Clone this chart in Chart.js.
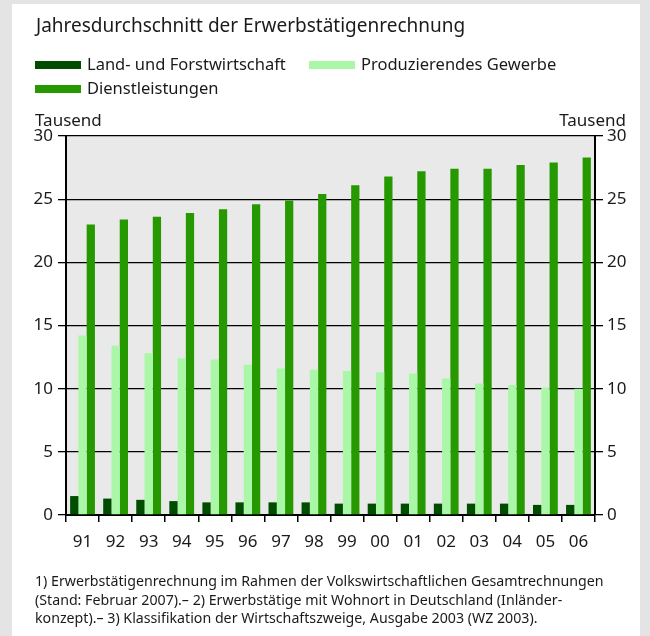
<!DOCTYPE html>
<html>
<head>
<meta charset="utf-8">
<script src="https://cdn.jsdelivr.net/npm/chart.js@4"></script>
<style>
    body { margin: 0; width: 650px; height: 636px; background: #e4e4e4; font-family: "Noto Sans", sans-serif; color: #1a1a1a; overflow: hidden; }
    #panel { position: absolute; left: 12px; top: 4px; width: 628px; height: 632px; background: #fff; }
    #chart { position: absolute; left: 0; top: 0; }
    .txt { position: absolute; white-space: nowrap; line-height: 1; }
    #title { left: 36px; top: 16px; font-size: 19px; }
    .leg { position: absolute; font-size: 16.5px; line-height: 1; white-space: nowrap; }
    .leg i { position: absolute; left: 0; top: 4px; width: 46px; height: 8px; }
    .leg span { position: absolute; left: 52px; top: -1px; }
    .unit { font-size: 17px; top: 111px; }
    #note { left: 35px; top: 572px; font-size: 14.2px; line-height: 18.7px; white-space: normal; width: 600px; }
</style>
</head>
<body>
<div id="panel"></div>
<canvas id="chart" width="650" height="636"></canvas>
<div id="title" class="txt">Jahresdurchschnitt der Erwerbstätigenrechnung</div>
<div id="legend"></div>
<div class="txt unit" style="left:35px">Tausend</div>
<div class="txt unit" style="right:24px">Tausend</div>
<div id="note" class="txt">1) Erwerbstätigenrechnung im Rahmen der Volkswirtschaftlichen Gesamtrechnungen<br>(Stand: Februar 2007).– 2) Erwerbstätige mit Wohnort in Deutschland (Inländer-<br>konzept).– 3) Klassifikation der Wirtschaftszweige, Ausgabe 2003 (WZ 2003).</div>
<script>
// Daten (Tausend)
const years = ['91', '92', '93', '94', '95', '96', '97', '98', '99', '00', '01', '02', '03', '04', '05', '06'];
const landForst = [1.5, 1.3, 1.2, 1.1, 1.0, 1.0, 1.0, 1.0, 0.9, 0.9, 0.9, 0.9, 0.9, 0.9, 0.8, 0.8];
const produzierend = [14.2, 13.4, 12.8, 12.4, 12.3, 11.9, 11.6, 11.5, 11.4, 11.3, 11.2, 10.8, 10.4, 10.3, 10.1, 10.0];
const dienst = [23.0, 23.4, 23.6, 23.9, 24.2, 24.6, 24.9, 25.4, 26.1, 26.8, 27.2, 27.4, 27.4, 27.7, 27.9, 28.3];
const yTicks = [0, 5, 10, 15, 20, 25, 30];

const seriesNames = ['Land- und Forstwirtschaft', 'Produzierendes Gewerbe', 'Dienstleistungen'];
const seriesColors = ['#004d00', '#aaf7a8', '#269900'];

// Legende (HTML)
const legPos = [[35, 57], [309, 57], [35, 81]];
document.getElementById('legend').innerHTML = seriesNames.map((n, i) => `
    <div class="leg" style="left:${legPos[i][0]}px;top:${legPos[i][1]}px">
      <i style="background:${seriesColors[i]}"></i><span>${n}</span>
    </div>`).join('');

const tickFont = {family: '"Noto Sans", sans-serif', size: 17};

// Hintergrund der Zeichenfläche
const plotBg = {
    id: 'plotBg',
    beforeDraw(chart) {
        const {ctx, chartArea: a} = chart;
        ctx.save();
        ctx.fillStyle = '#e9e9e9';
        ctx.fillRect(a.left, a.top, a.right - a.left, a.bottom - a.top);
        ctx.restore();
    }
};

const yAxis = (pos, w) => ({
    position: pos,
    min: 0,
    max: 30,
    afterBuildTicks: s => { s.ticks = yTicks.map(v => ({value: v})); },
    ticks: {color: '#1a1a1a', font: tickFont, padding: pos === 'left' ? 5 : 4},
    grid: {color: '#000', lineWidth: 1.3, tickLength: 8, drawOnChartArea: pos === 'left'},
    border: {color: '#000', width: 2},
    afterFit: s => { s.width = w; }
});

new Chart(document.getElementById('chart'), {
    type: 'bar',
    data: {
        labels: years,
        datasets: [landForst, produzierend, dienst].map((d, i) => ({
            label: seriesNames[i],
            data: d,
            backgroundColor: seriesColors[i],
            borderWidth: 0,
            categoryPercentage: 0.75,
            barPercentage: 1.0,
            yAxisID: 'y'
        }))
    },
    options: {
        responsive: false,
        animation: false,
        layout: {padding: {top: 136, bottom: 81, left: 0, right: 0}},
        plugins: {legend: {display: false}, tooltip: {enabled: false}},
        scales: {
            x: {
                ticks: {color: '#1a1a1a', font: tickFont, padding: 10},
                grid: {display: true, drawOnChartArea: false, color: '#000', tickLength: 7, lineWidth: 1.5},
                border: {color: '#000', width: 2},
                afterFit: s => { s.height = 40; }
            },
            y: yAxis('left', 66),
            y2: Object.assign(yAxis('right', 55), {display: true})
        }
    },
    plugins: [plotBg]
});
</script>
</body>
</html>
